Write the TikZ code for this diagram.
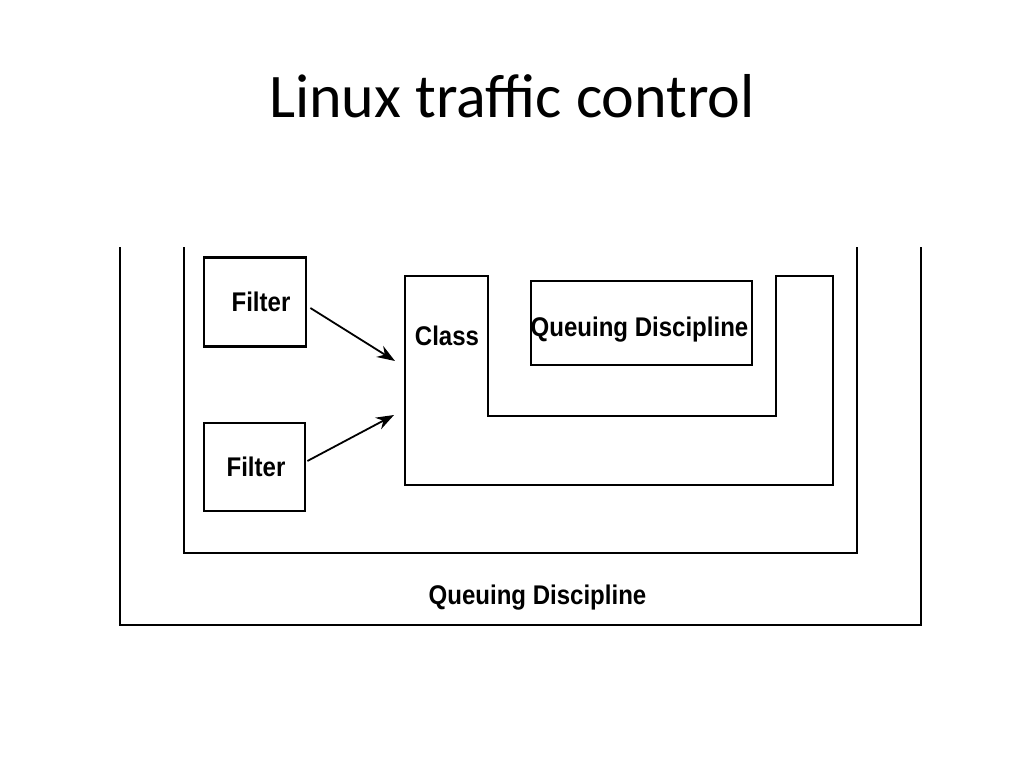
\documentclass[tikz,border=0pt]{standalone}
\usepackage{fontspec}
\setmainfont{Carlito}
\newfontfamily\diagfont[FakeStretch=0.89]{Liberation Sans}
\usetikzlibrary{arrows.meta}
\tikzset{
  frame/.style={line width=2.8pt, line join=miter},
  box/.style={draw, line width=2.8pt, inner sep=0pt},
  lbl/.style={font=\diagfont\bfseries\fontsize{27}{30}\selectfont, anchor=base, inner sep=0pt},
  arr/.style={line width=1.8pt, -{Stealth[length=18pt,width=13pt,inset=6pt]}}
}
\begin{document}
\begin{tikzpicture}[x=1pt,y=-1pt]
\useasboundingbox (0,0) rectangle (1024,768);
\fill[white] (0,0) rectangle (1024,768);
% title
\node[anchor=base, inner sep=0pt, font=\fontsize{62}{70}\selectfont] (title) at (512,117) {Linux traffic control};
% outer queuing discipline (open top)
\draw[frame] (120,247) -- (120,625) -- (921,625) -- (921,247);
% inner container (open top)
\draw[frame] (184,247) -- (184,553) -- (857,553) -- (857,247);
% filters
\node[box, minimum width=102pt, minimum height=89pt] (f1) at (255,302) {};
\node[box, minimum width=101pt, minimum height=88pt] (f2) at (254.5,467) {};
\node[lbl] (f1t) at (261,311) {Filter};
\node[lbl] (f2t) at (256,476) {Filter};
% class shape
\draw[frame] (405,276) -- (488,276) -- (488,416) -- (776,416) -- (776,276) -- (833,276) -- (833,485) -- (405,485) -- cycle;
\node[lbl] (classt) at (447,345) {Class};
% inner queuing discipline
\node[box, minimum width=221pt, minimum height=84pt] (qd) at (641.5,323) {};
\node[lbl] (qdt) at (639.5,336) {Queuing Discipline};
\node[lbl] (qdo) at (537.5,604) {Queuing Discipline};
% arrows
\coordinate (c1) at (395,361);
\coordinate (c2) at (394,415);
\draw[arr] ([xshift=3pt,yshift=-6pt]f1.east) -- (c1);
\draw[arr] ([xshift=1pt,yshift=6pt]f2.east) -- (c2);
\end{tikzpicture}
\end{document}
